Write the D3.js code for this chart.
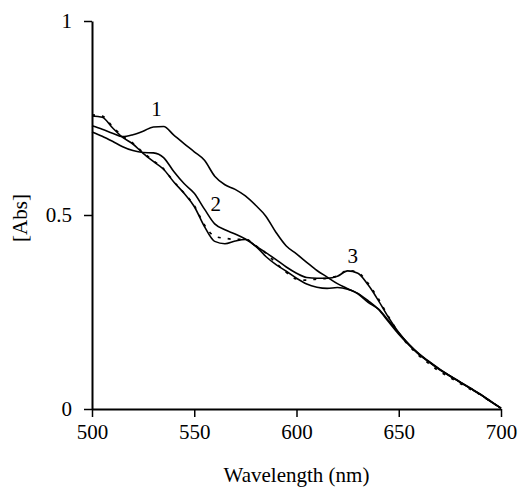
<!DOCTYPE html>
<html>
<head>
<meta charset="utf-8">
<script src="https://cdn.jsdelivr.net/npm/d3@7"></script>
<style>
  body { margin: 0; background: #fff; }
  svg { display: block; }
  text { font-family: "Liberation Serif", "Times New Roman", serif; fill: #000; }
</style>
</head>
<body>
<svg id="chart" width="519" height="487"></svg>
<script>
"use strict";

// wavelength grid (nm)
const wavelength = [500, 505, 510, 515, 520, 525, 530, 535, 540, 545, 550, 555, 560, 565, 570, 575, 580, 585, 590, 595,
                    600, 605, 610, 615, 620, 625, 630, 635, 640, 645, 650, 655, 660, 665, 670, 675, 680, 685, 690, 695, 700];

// curve 1
const abs1 = [0.730, 0.721, 0.711, 0.702, 0.707, 0.716, 0.727, 0.728, 0.706, 0.684, 0.663, 0.641, 0.600, 0.578, 0.566, 0.549, 0.525, 0.497, 0.455, 0.420,
              0.400, 0.378, 0.357, 0.340, 0.323, 0.310, 0.297, 0.275, 0.258, 0.228, 0.196, 0.167, 0.142, 0.122, 0.103, 0.086, 0.070, 0.054, 0.038, 0.020, 0.002];
// curve 2
const abs2 = [0.714, 0.703, 0.690, 0.676, 0.666, 0.661, 0.660, 0.648, 0.612, 0.581, 0.556, 0.515, 0.477, 0.462, 0.451, 0.438, 0.420, 0.393, 0.372, 0.355,
              0.337, 0.322, 0.314, 0.311, 0.313, 0.309, 0.298, 0.279, 0.257, 0.225, 0.193, 0.165, 0.140, 0.121, 0.102, 0.085, 0.069, 0.053, 0.037, 0.019, 0.002];
// curve 3
const abs3 = [0.755, 0.752, 0.725, 0.700, 0.683, 0.659, 0.638, 0.618, 0.585, 0.556, 0.522, 0.470, 0.432, 0.426, 0.433, 0.437, 0.420, 0.403, 0.385, 0.366,
              0.350, 0.339, 0.337, 0.337, 0.342, 0.356, 0.350, 0.320, 0.280, 0.236, 0.197, 0.166, 0.141, 0.120, 0.101, 0.085, 0.069, 0.053, 0.037, 0.019, 0.002];
// dotted curve (close to curve 3)
const absDot = [0.758, 0.755, 0.728, 0.703, 0.685, 0.661, 0.640, 0.619, 0.586, 0.557, 0.524, 0.474, 0.445, 0.440, 0.437, 0.438, 0.421, 0.402, 0.376, 0.352,
                0.335, 0.332, 0.335, 0.337, 0.343, 0.357, 0.352, 0.324, 0.284, 0.238, 0.196, 0.163, 0.137, 0.116, 0.097, 0.081, 0.066, 0.051, 0.036, 0.019, 0.002];

const xTicks = [500, 550, 600, 650, 700];
const yTicks = [0, 0.5, 1];
const labels = [{ text: "1", wl: 531.5, v: 0.755 }, { text: "2", wl: 560.5, v: 0.51 }, { text: "3", wl: 627.5, v: 0.377 }];

const svg = d3.select("#chart");
const margin = { left: 92, right: 18, top: 21, bottom: 78 };
const width = 519 - margin.left - margin.right;
const height = 487 - margin.top - margin.bottom;
const fontSize = 21;

const chart = svg.append("g").attr("transform", `translate(${margin.left},${margin.top})`);

const scaleX = d3.scaleLinear().domain([500, 700]).range([0, width]);
const scaleY = d3.scaleLinear().domain([0, 1]).range([height, 0]);

const line = d3.line()
    .x(d => scaleX(d[0]))
    .y(d => scaleY(d[1]))
    .curve(d3.curveMonotoneX);

function drawCurve(values, dashed) {
    chart.append("path")
        .datum(wavelength.map((w, i) => [w, values[i]]))
        .attr("fill", "none")
        .attr("stroke", "#000")
        .attr("stroke-width", dashed ? 1.7 : 1.6)
        .attr("stroke-dasharray", dashed ? "3,7" : null)
        .attr("d", line);
}

drawCurve(abs1, false);
drawCurve(abs2, false);
drawCurve(abs3, false);
drawCurve(absDot, true);

// axes
const xAxis = chart.append("g")
    .attr("transform", `translate(0,${height})`)
    .call(d3.axisBottom(scaleX).tickValues(xTicks).tickSize(8).tickSizeOuter(0).tickPadding(7));
const yAxis = chart.append("g")
    .call(d3.axisLeft(scaleY).tickValues(yTicks).tickSize(8).tickSizeOuter(0).tickPadding(12)
        .tickFormat(d => d === 0.5 ? "0.5" : d3.format("d")(d)));

[xAxis, yAxis].forEach(a => {
    a.selectAll("path.domain").attr("stroke", "#000").attr("stroke-width", 2);
    a.selectAll("line").attr("stroke", "#000").attr("stroke-width", 1.5);
    a.selectAll("text")
        .attr("font-size", fontSize)
        .attr("fill", "#000");
});

// curve labels
chart.selectAll("text.curveLabel")
    .data(labels)
    .enter().append("text")
    .attr("class", "curveLabel")
    .attr("x", d => scaleX(d.wl))
    .attr("y", d => scaleY(d.v))
    .attr("text-anchor", "middle")
    .attr("font-size", fontSize)
    .text(d => d.text);

// axis titles
svg.append("text")
    .attr("x", margin.left + width / 2)
    .attr("y", 482)
    .attr("text-anchor", "middle")
    .attr("font-size", fontSize)
    .text("Wavelength (nm)");

svg.append("text")
    .attr("transform", "translate(27,218) rotate(-90)")
    .attr("text-anchor", "middle")
    .attr("font-size", fontSize)
    .text("[Abs]");
</script>
</body>
</html>
